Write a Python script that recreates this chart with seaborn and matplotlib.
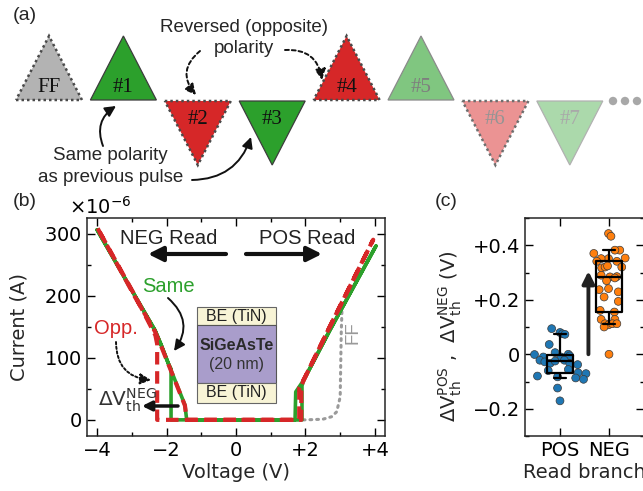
import numpy as np
import pandas as pd
import matplotlib
matplotlib.use("Agg")
import matplotlib.pyplot as plt
import seaborn as sns
from matplotlib.patches import Polygon, Rectangle, Circle
from matplotlib.ticker import MultipleLocator, FixedLocator, FixedFormatter

# ---------------- data ----------------
# panel (a): pulse sequence
pulse_labels = ["FF", "#1", "#2", "#3", "#4", "#5", "#6", "#7"]
pulse_up = [True, True, False, False, True, True, False, False]
pulse_kind = ["ff", "same", "opp", "same", "opp", "same", "opp", "same"]
pulse_fade = [1.0, 1.0, 1.0, 1.0, 1.0, 0.6, 0.5, 0.4]

# panel (b): I-V sweeps, V in volts, I in microamps
same_v = [0, -1.87, -1.87, -1.95, -2.15, -2.33, -2.9, -4.0, -2.9, -2.33, -2.15, -1.95, -1.47, -1.42, 0,
          1.70, 1.72, 1.95, 2.7, 4.03, 2.7, 1.95, 1.9, 1.9, 0]
same_i = [0, 0, 82, 91, 120, 144, 199, 306, 199, 144, 120, 91, 24, 0, 0,
          0, 45, 64, 144, 280, 144, 64, 55, 0, 0]
opp_v = [0, -2.27, -2.27, -2.32, -2.43, -2.9, -4.0, -2.9, -2.33, -2.15, -1.95, -1.47, -1.42, 0,
         1.82, 1.82, 2.0, 2.7, 3.95, 2.7, 2.0, 1.88, 1.88, 0]
opp_i = [0, 0, 122, 136, 148, 199, 310, 197, 142, 118, 90, 23, 0, 0,
         0, 52, 70, 150, 290, 150, 70, 55, 0, 0]
ff_v = [0, 2.0, 2.5, 2.75, 2.9, 3.0, 3.03, 3.05]
ff_i = [0, 0, 1, 5, 13, 37, 140, 175]
b_xticks = [-4, -2, 0, 2, 4]
b_xticklabels = ["\u22124", "\u22122", "0", "+2", "+4"]
b_yticks = [0, 100, 200, 300]

# panel (c): threshold shift per read branch
branches = ["POS", "NEG"]
pos_dv = [0.094, 0.08, 0.075, 0.073, 0.036, -0.001, -0.01, 0.006, -0.01, -0.012, 0.0, -0.006,
          -0.022, -0.028, -0.033, -0.025, -0.022, -0.034, -0.038, -0.056, -0.06, -0.068,
          -0.071, -0.08, -0.083, -0.087, -0.092, -0.124, -0.171]
pos_jit = [-0.17, 0.0, 0.05, 0.10, -0.22, -0.52, -0.34, -0.10, 0.02, 0.12, 0.17, 0.20,
           -0.41, -0.31, -0.20, -0.10, 0.09, 0.20, 0.36, 0.17, -0.24, 0.37,
           0.53, -0.46, -0.05, 0.32, 0.48, -0.05, 0.0]
neg_dv = [0.443, 0.433, 0.382, 0.382, 0.37, 0.353, 0.341, 0.351, 0.351, 0.341, 0.32, 0.317,
          0.32, 0.324, 0.29, 0.284, 0.27, 0.241, 0.285, 0.28, 0.237, 0.229, 0.21, 0.194,
          0.161, 0.155, 0.128, 0.128, 0.112, 0.108, 0.112, 0.112, 0.10, 0.0]
neg_jit = [-0.01, 0.04, 0.22, 0.12, -0.31, 0.33, 0.16, -0.01, -0.16, -0.25, 0.26, -0.15,
           -0.08, -0.03, -0.16, 0.02, -0.05, -0.01, 0.16, 0.12, -0.20, 0.19, -0.10, 0.19,
           -0.18, 0.11, -0.16, 0.12, -0.08, -0.01, 0.07, 0.16, -0.10, 0.0]
c_yticks = [-0.2, 0.0, 0.2, 0.4]
c_yticklabels = ["\u22120.2", "0", "+0.2", "+0.4"]

# ---------------- style ----------------
sns.set_style("ticks")
plt.rcParams["font.family"] = ["DejaVu Sans"]
plt.rcParams["mathtext.default"] = "regular"
plt.rcParams["axes.linewidth"] = 1.1
ANN = ["Liberation Sans", "DejaVu Sans"]
GREEN = "#2ca02c"
RED = "#d62728"

W, H = 643, 491
fig = plt.figure(figsize=(W / 100, H / 100), dpi=100)


def frac(l, t, r, b):
    return [l / W, 1 - b / H, (r - l) / W, (b - t) / H]


def style_ticks(ax):
    ax.tick_params(which="both", direction="in", top=True, right=True,
                   labelsize=14, width=1.0, colors="black")
    ax.tick_params(which="major", length=5.5)
    ax.tick_params(which="minor", length=3)


# ---------------- panel (b) ----------------
axb = fig.add_axes(frac(87, 218, 385, 436))
sns.lineplot(x=ff_v, y=np.array(ff_i) * 1e-6, sort=False, estimator=None, ax=axb,
             color="#9a9a9a", lw=2.2, ls=(0, (0.6, 1.6)), dash_capstyle="round")
sns.lineplot(x=same_v, y=np.array(same_i) * 1e-6, sort=False, estimator=None, ax=axb,
             color=GREEN, lw=2.6)
sns.lineplot(x=opp_v, y=np.array(opp_i) * 1e-6, sort=False, estimator=None, ax=axb,
             color=RED, lw=3.0, ls=(0, (3.0, 1.6)))
axb.set_xlim(-4.29, 4.29)
axb.set_ylim(-26e-6, 325e-6)
axb.set_xticks(b_xticks)
axb.set_xticklabels(b_xticklabels)
axb.xaxis.set_minor_locator(MultipleLocator(1))
axb.set_yticks(np.array(b_yticks) * 1e-6)
axb.yaxis.set_minor_locator(MultipleLocator(50e-6))
axb.ticklabel_format(axis="y", style="sci", scilimits=(-6, -6), useMathText=True)
style_ticks(axb)
axb.yaxis.get_offset_text().set_fontsize(14)
axb.yaxis.get_offset_text().set_x(-0.06)
axb.set_xlabel("Voltage (V)", fontsize=14)
axb.set_ylabel("Current (A)", fontsize=14)
axb.yaxis.set_label_coords(-0.195, 0.5)
axb.xaxis.set_label_coords(0.5, -0.125)

# ---------------- panel (c) ----------------
axc = fig.add_axes(frac(525, 218, 644, 436))
dfc = pd.DataFrame({
    "branch": ["POS"] * len(pos_dv) + ["NEG"] * len(neg_dv),
    "dv": pos_dv + neg_dv,
    "jit": pos_jit + neg_jit,
})
dfc["x"] = dfc["branch"].map({b: i for i, b in enumerate(branches)}) + dfc["jit"]
sns.scatterplot(data=dfc, x="x", y="dv", hue="branch",
                palette={"POS": "#1f77b4", "NEG": "#ff7f0e"}, s=32,
                edgecolor="#3a3a3a", linewidth=0.5, legend=False, ax=axc, zorder=2)
sns.boxplot(data=dfc, x="branch", y="dv", order=branches, whis=(8, 92), showfliers=False,
            fill=False, color="black", width=0.53, linewidth=1.6, ax=axc, zorder=3,
            native_scale=False)
axc.annotate("", xy=(0.58, 0.305), xytext=(0.58, 0.0),
             arrowprops=dict(arrowstyle="-|>", lw=2.8, color="#222222", mutation_scale=18,
                             shrinkA=0, shrinkB=0))
axc.set_xlim(-0.714, 1.714)
axc.set_ylim(-0.3, 0.5)
axc.set_xticks([0, 1])
axc.set_xticklabels(branches)
axc.yaxis.set_major_locator(FixedLocator(c_yticks))
axc.yaxis.set_major_formatter(FixedFormatter(c_yticklabels))
axc.yaxis.set_minor_locator(MultipleLocator(0.1))
style_ticks(axc)
axc.set_xlabel("Read branch", fontsize=14)
axc.set_ylabel(r"$\Delta$V$_{th}^{POS}$ ,  $\Delta$V$_{th}^{NEG}$ (V)", fontsize=14)
axc.yaxis.set_label_coords(-0.51, 0.46)
axc.xaxis.set_label_coords(0.5, -0.125)

# ---------------- overlay: panel (a) + annotations ----------------
ov = fig.add_axes([0, 0, 1, 1])
ov.set_xlim(0, W)
ov.set_ylim(H, 0)
ov.axis("off")
ov.patch.set_visible(False)


def mix(c, a):
    rgb = np.array(matplotlib.colors.to_rgb(c))
    return tuple(rgb * a + (1 - a))


x0, step, hw = 49, 74.4, 33
for i, (lab, up, kind, fade) in enumerate(zip(pulse_labels, pulse_up, pulse_kind, pulse_fade)):
    cx = x0 + i * step
    if up:
        pts = [(cx - hw, 100), (cx + hw, 100), (cx, 36)]
        ty = 87
    else:
        pts = [(cx - hw, 101), (cx + hw, 101), (cx, 165)]
        ty = 119
    base = {"ff": "#b3b3b3", "same": GREEN, "opp": RED}[kind]
    fc = mix(base, fade)
    if kind == "same":
        ec, ls, lw = mix("#3c3c3c", fade), "-", 0.9
    else:
        ec, ls, lw = mix("#4a4a4a", max(fade, 0.8)), (0, (1.0, 1.2)), 1.8
    ov.add_patch(Polygon(pts, closed=True, fc=fc, ec=ec, lw=lw, ls=ls, joinstyle="miter"))
    tc = mix("#111111", 1.0 if fade == 1.0 else fade * 0.9)
    ov.text(cx, ty, lab, ha="center", va="center", fontsize=15,
            family=["Liberation Serif", "DejaVu Serif"], color=tc)

for dx in (613, 625, 637, 649):
    ov.add_patch(Circle((dx, 101), 4.2, fc="#a8a8a8", ec="none"))

ov.text(13, 15, "(a)", fontsize=14, family=ANN, va="center", ha="left")
ov.text(13, 202, "(b)", fontsize=14, family=ANN, va="center", ha="left")
ov.text(435, 202, "(c)", fontsize=14, family=ANN, va="center", ha="left")

ov.text(244, 27, "Reversed (opposite)", fontsize=13.5, family=ANN, ha="center", va="center")
ov.text(244, 48, "polarity", fontsize=13.5, family=ANN, ha="center", va="center")
ov.text(110, 155, "Same polarity", fontsize=13.5, family=ANN, ha="center", va="center")
ov.text(111, 177, "as previous pulse", fontsize=13.5, family=ANN, ha="center", va="center")


def arrow(p0, p1, rad, ls="-", lw=1.4, ms=16, color="#111111"):
    ov.annotate("", xy=p1, xytext=p0,
                arrowprops=dict(arrowstyle="-|>", connectionstyle=f"arc3,rad={rad}",
                                lw=lw, ls=ls, color=color, mutation_scale=ms,
                                shrinkA=0, shrinkB=0))


arrow((200, 51), (196, 95), 0.5, ls=(0, (2, 1.5)))
arrow((285, 50), (322, 80), -0.45, ls=(0, (2, 1.5)))
arrow((103, 146), (116, 106), -0.4)
arrow((192, 180), (251, 137), 0.35)

# panel (b) annotations
ov.text(169, 238, "NEG Read", fontsize=14.5, family=ANN, ha="center", va="center", color="#222222")
ov.text(307, 238, "POS Read", fontsize=14.5, family=ANN, ha="center", va="center", color="#222222")
ov.annotate("", xy=(148, 254), xytext=(226, 254),
            arrowprops=dict(arrowstyle="-|>", lw=3, color="#111111", mutation_scale=22,
                            shrinkA=0, shrinkB=0))
ov.annotate("", xy=(322, 254), xytext=(246, 254),
            arrowprops=dict(arrowstyle="-|>", lw=3, color="#111111", mutation_scale=22,
                            shrinkA=0, shrinkB=0))
ov.text(168, 287, "Same", fontsize=14.5, family=ANN, ha="center", va="center", color=GREEN)
ov.text(116, 329, "Opp.", fontsize=14.5, family=ANN, ha="center", va="center", color=RED)
arrow((168, 298), (174, 351), -0.45)
arrow((116, 342), (151, 380), 0.45, ls=(0, (1.2, 1.2)))
ov.text(98, 400, r"$\Delta$V$_{th}^{NEG}$", fontsize=14.5, ha="left", va="center", color="#333333")
ov.annotate("", xy=(142, 406), xytext=(178, 406),
            arrowprops=dict(arrowstyle="-|>", lw=2.5, color="#111111", mutation_scale=14,
                            shrinkA=0, shrinkB=0))
ov.text(353, 333, "FF", fontsize=13.5, family=ANN, rotation=90, ha="center", va="center",
        color="#999999")

# inset layer stack
ov.add_patch(Rectangle((197, 307), 79, 18, fc="#f8f4d6", ec="#666666", lw=0.8))
ov.add_patch(Rectangle((197, 325), 79, 58, fc="#a99dcb", ec="#555555", lw=0.8))
ov.add_patch(Rectangle((197, 383), 79, 20, fc="#f8f4d6", ec="#666666", lw=0.8))
ov.text(236.5, 316, "BE (TiN)", fontsize=11.5, family=ANN, ha="center", va="center", color="#222222")
ov.text(236.5, 346, "SiGeAsTe", fontsize=11.5, family=ANN, weight="bold", ha="center", va="center",
        color="#2a2a2a")
ov.text(236.5, 364, "(20 nm)", fontsize=11.5, family=ANN, ha="center", va="center", color="#333333")
ov.text(236.5, 393, "BE (TiN)", fontsize=11.5, family=ANN, ha="center", va="center", color="#222222")

fig.savefig("out.png", dpi=100)
